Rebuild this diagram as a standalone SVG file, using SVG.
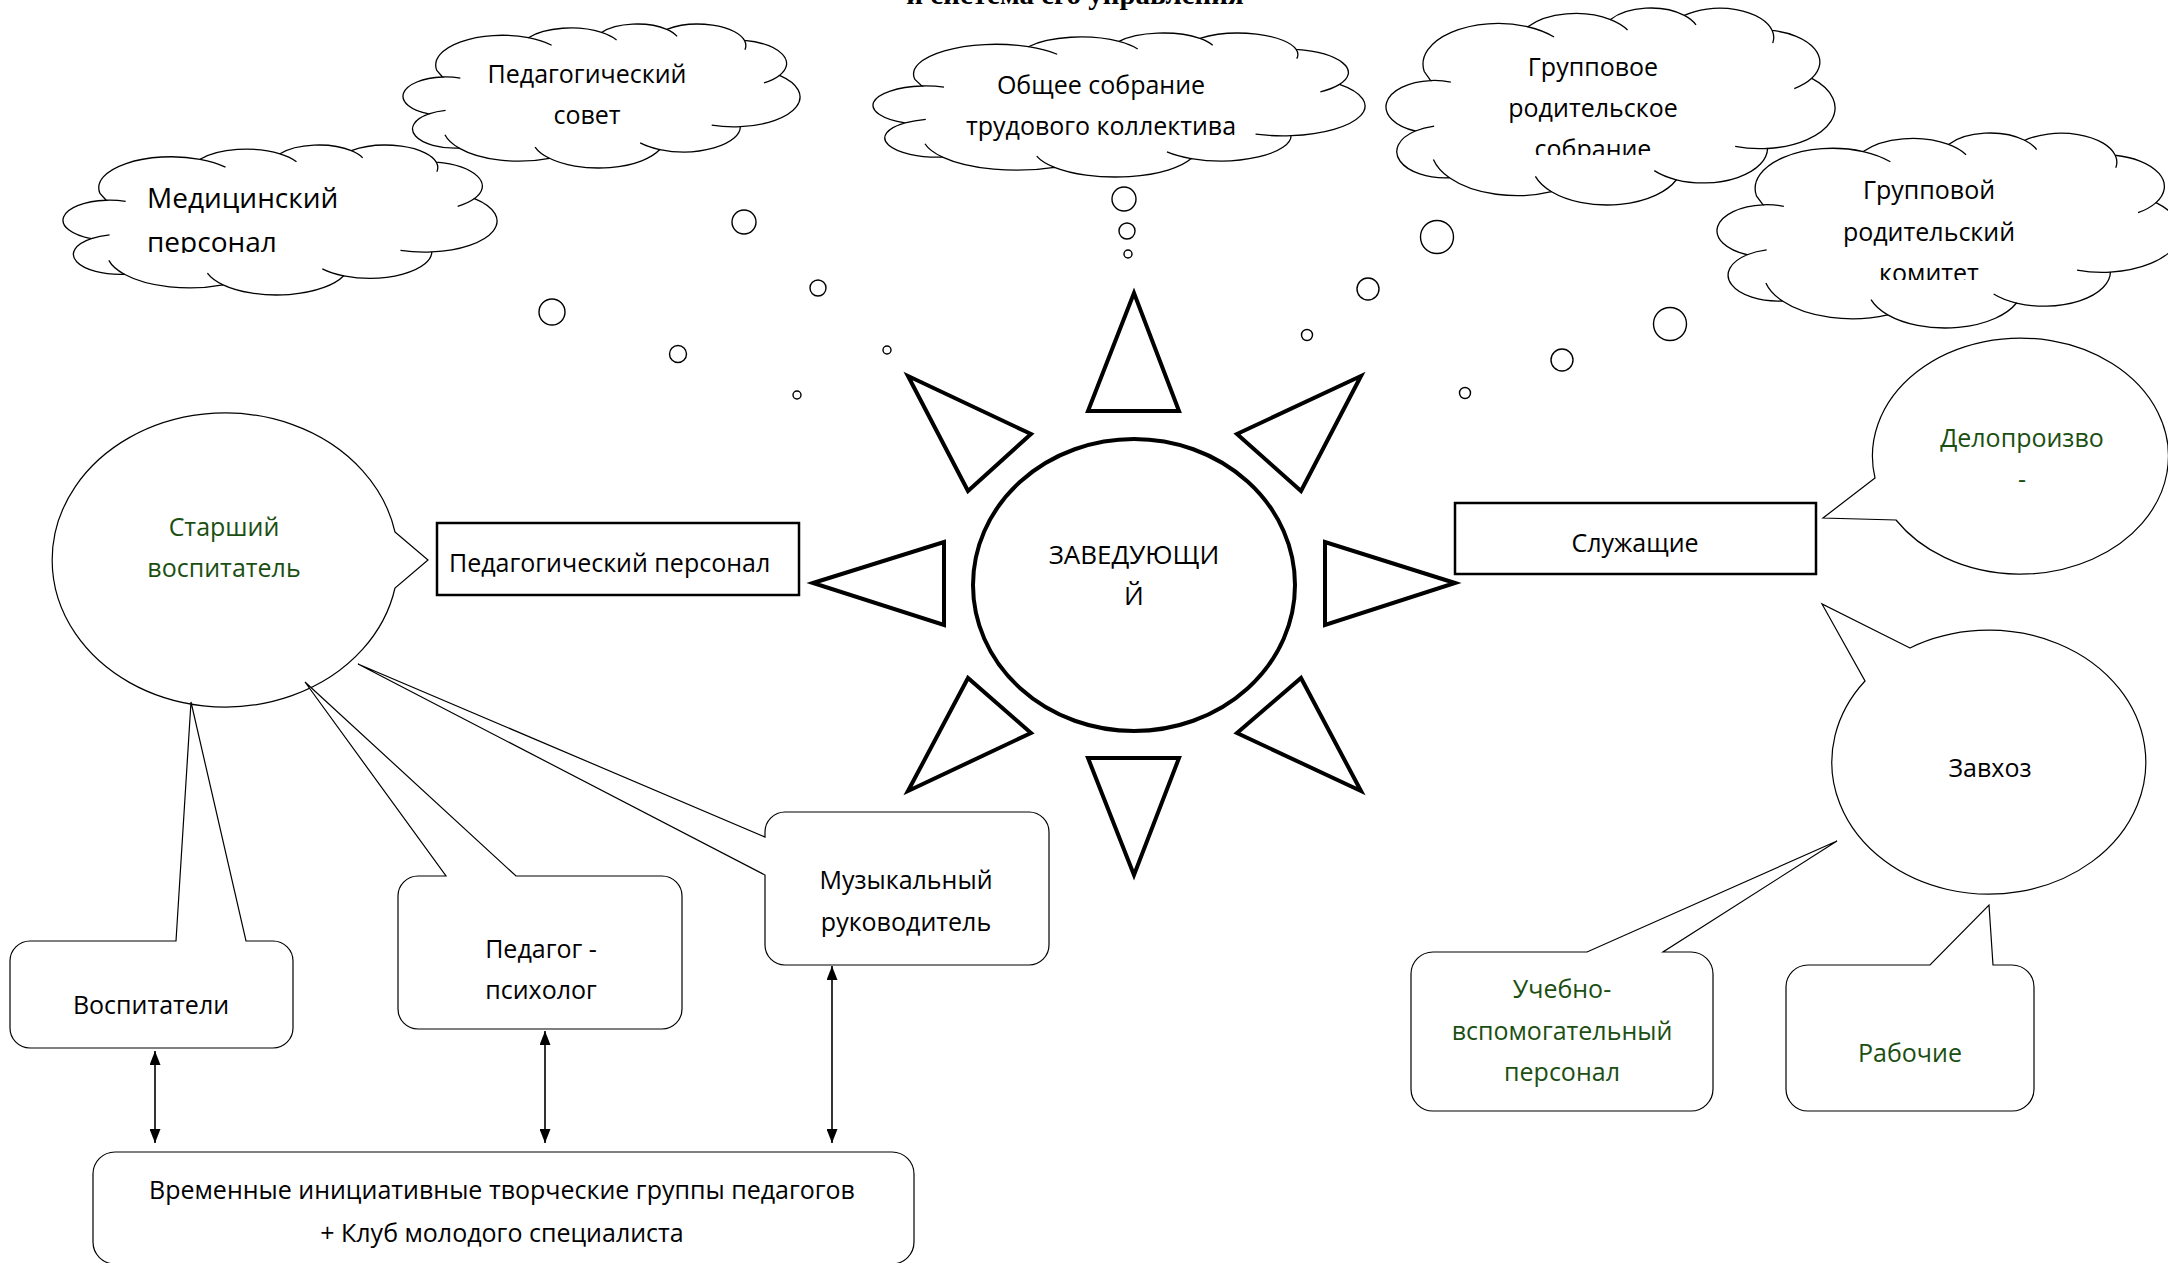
<svg xmlns="http://www.w3.org/2000/svg" width="2168" height="1263" viewBox="0 0 2168 1263">
<style>
.cl{fill:#fff;stroke:#000;stroke-width:1.3}
.wr{fill:none;stroke:#000;stroke-width:1.3}
.bub{fill:#fff;stroke:#000;stroke-width:1.4}
.sun{fill:#fff;stroke:#000;stroke-width:4;stroke-linejoin:miter}
.box{fill:#fff;stroke:#000;stroke-width:2.5}
.co{fill:#fff;stroke:#000;stroke-width:1.2;stroke-linejoin:miter}
.t{font-family:"Open Sans","Noto Sans","DejaVu Sans",sans-serif;font-size:25px;fill:#000}
.g{fill:#1b4f12}
.c{text-anchor:middle}
.arr{stroke:#000;stroke-width:1.6;fill:none}
</style>
<defs>
<path id="cloudShape" vector-effect="non-scaling-stroke" d="M 8.52 32.26 A 16.72 20.67 0 0 1 31.58 9.52 A 13.20 16.34 0 0 1 50.01 5.86 A 10.81 13.37 0 0 1 66.44 3.74 A 12.03 14.83 0 0 1 86.01 11.41 A 13.20 16.35 0 0 1 94.82 35.70 A 16.77 20.73 0 0 1 84.98 71.31 A 14.32 17.69 0 0 1 64.68 87.19 A 16.72 20.72 0 0 1 36.88 93.25 A 19.11 23.71 0 0 1 14.13 86.16 A 10.80 13.31 0 0 1 6.52 62.44 A 10.76 13.37 0 0 1 9.95 36.82 Z"/>
<path id="cloudWr" vector-effect="non-scaling-stroke" d="M 31.58 9.52 A 16.72 20.67 0 0 1 37.44 14.75 M 50.01 5.86 A 13.20 16.34 0 0 1 53.80 11.14 M 66.44 3.74 A 10.81 13.37 0 0 1 69.04 8.56 M 86.01 11.41 A 12.03 14.83 0 0 1 86.13 17.83 M 94.82 35.70 A 13.20 16.35 0 0 1 90.93 40.89 M 84.98 71.31 A 16.77 20.73 0 0 1 77.76 70.29 M 64.68 87.19 A 14.32 17.69 0 0 1 59.75 82.56 M 36.88 93.25 A 16.72 20.72 0 0 1 33.27 85.46 M 14.13 86.16 A 19.11 23.71 0 0 1 10.56 76.90 M 6.52 62.44 A 10.80 13.31 0 0 1 10.73 59.94 M 9.95 36.82 A 10.76 13.37 0 0 1 14.44 37.59"/>
<marker id="ah" markerUnits="userSpaceOnUse" markerWidth="14" markerHeight="11" refX="14" refY="5.5" orient="auto-start-reverse"><path d="M0,0 L14,5.5 L0,11 Z" fill="#000"/></marker>
<clipPath id="clipMed"><rect x="60" y="140" width="440" height="113"/></clipPath>
<clipPath id="clipGrp"><rect x="1380" y="0" width="460" height="155"/></clipPath>
<clipPath id="clipKom"><rect x="1710" y="130" width="460" height="150"/></clipPath>
</defs>
<rect width="2168" height="1263" fill="#fff"/>
<text x="1075" y="4" font-family="'Liberation Serif',serif" font-weight="bold" font-size="29" text-anchor="middle">и система его управления</text>

<g id="cloud-ped-sovet">
<g transform="translate(403,24) scale(3.97,1.44)"><use href="#cloudShape" class="cl"/><use href="#cloudWr" class="wr"/></g>
<text class="t c" x="587" y="83">Педагогический</text>
<text class="t c" x="587" y="124">совет</text>
</g>
<g id="cloud-med">
<g transform="translate(63,145) scale(4.34,1.50)"><use href="#cloudShape" class="cl"/><use href="#cloudWr" class="wr"/></g>
<g clip-path="url(#clipMed)">
<text class="t" style="font-size:28px" x="147" y="208">Медицинский</text>
<text class="t" style="font-size:28px" x="147" y="252">персонал</text>
</g>
</g>
<g id="cloud-obshee">
<g transform="translate(873,33) scale(4.92,1.44)"><use href="#cloudShape" class="cl"/><use href="#cloudWr" class="wr"/></g>
<text class="t c" x="1101" y="94">Общее собрание</text>
<text class="t c" x="1101" y="135">трудового коллектива</text>
</g>
<g id="cloud-grp-sobranie">
<g transform="translate(1386,8) scale(4.49,1.97)"><use href="#cloudShape" class="cl"/><use href="#cloudWr" class="wr"/></g>
<g clip-path="url(#clipGrp)">
<text class="t c" x="1593" y="76">Групповое</text>
<text class="t c" x="1593" y="117">родительское</text>
<text class="t c" x="1593" y="158">собрание</text>
</g>
</g>
<g id="cloud-komitet">
<g transform="translate(1717,133) scale(4.63,1.95)"><use href="#cloudShape" class="cl"/><use href="#cloudWr" class="wr"/></g>
<g clip-path="url(#clipKom)">
<text class="t c" x="1929" y="199">Групповой</text>
<text class="t c" x="1929" y="241">родительский</text>
<text class="t c" x="1929" y="282">комитет</text>
</g>
</g>

<g id="thought-bubbles">
<circle class="bub" cx="552" cy="312" r="13"/>
<circle class="bub" cx="744" cy="222" r="12"/>
<circle class="bub" cx="818" cy="288" r="8"/>
<circle class="bub" cx="678" cy="354" r="8.5"/>
<circle class="bub" cx="887" cy="350" r="4"/>
<circle class="bub" cx="797" cy="395" r="4"/>
<circle class="bub" cx="1124" cy="199" r="12"/>
<circle class="bub" cx="1127" cy="231" r="8"/>
<circle class="bub" cx="1128" cy="254" r="4"/>
<circle class="bub" cx="1437" cy="237" r="16.5"/>
<circle class="bub" cx="1368" cy="289" r="11"/>
<circle class="bub" cx="1307" cy="335" r="5.5"/>
<circle class="bub" cx="1670" cy="324" r="16.5"/>
<circle class="bub" cx="1562" cy="360" r="11"/>
<circle class="bub" cx="1465" cy="393" r="5.5"/>
</g>

<g id="zaveduyushiy">
<polygon class="sun" points="1134,293 1088,411 1179,411"/>
<polygon class="sun" points="908,376 1031,434 968,491"/>
<polygon class="sun" points="1361,376 1237,434 1301,491"/>
<polygon class="sun" points="813,583 944,542 944,625"/>
<polygon class="sun" points="1455,583 1325,542 1325,625"/>
<polygon class="sun" points="908,791 1031,733 968,678"/>
<polygon class="sun" points="1361,791 1237,733 1301,678"/>
<polygon class="sun" points="1134,875 1088,758 1179,758"/>
<ellipse class="sun" cx="1134" cy="585" rx="161" ry="146"/>
<text class="t c" style="font-size:26px" x="1134" y="564">ЗАВЕДУЮЩИ</text>
<text class="t c" style="font-size:26px" x="1134" y="605">Й</text>
</g>

<g id="ped-personal">
<rect class="box" x="437" y="523" width="362" height="72"/>
<text class="t" x="449" y="572">Педагогический персонал</text>
</g>
<g id="sluzhashie">
<rect class="box" x="1455" y="503" width="361" height="71"/>
<text class="t c" x="1635" y="552">Служащие</text>
</g>

<g id="starshiy-vospitatel">
<path class="co" d="M 395,532 L 428,560 L 395,588 A 173 147 0 1 1 395,532 Z"/>
<text class="t c g" x="224" y="536">Старший</text>
<text class="t c g" x="224" y="577">воспитатель</text>
</g>
<g id="vospitateli">
<path class="co" d="M 30,941 H 176 L 191,702 L 246,941 H 273 A 20 20 0 0 1 293,961 V 1028 A 20 20 0 0 1 273,1048 H 30 A 20 20 0 0 1 10,1028 V 961 A 20 20 0 0 1 30,941 Z"/>
<text class="t c" x="151" y="1014">Воспитатели</text>
</g>
<g id="pedagog-psiholog">
<path class="co" d="M 418,876 H 446 L 305,682 L 516,876 H 662 A 20 20 0 0 1 682,896 V 1009 A 20 20 0 0 1 662,1029 H 418 A 20 20 0 0 1 398,1009 V 896 A 20 20 0 0 1 418,876 Z"/>
<text class="t c" x="541" y="958">Педагог -</text>
<text class="t c" x="541" y="999">психолог</text>
</g>
<g id="muz-rukovoditel">
<path class="co" d="M 785,812 H 1029 A 20 20 0 0 1 1049,832 V 945 A 20 20 0 0 1 1029,965 H 785 A 20 20 0 0 1 765,945 V 875 L 358,664 L 765,837 V 832 A 20 20 0 0 1 785,812 Z"/>
<text class="t c" x="906" y="889">Музыкальный</text>
<text class="t c" x="906" y="931">руководитель</text>
</g>
<g id="vremennye-gruppy">
<rect class="co" x="93" y="1152" width="821" height="112" rx="22" ry="22"/>
<text class="t c" x="502" y="1199">Временные инициативные творческие группы педагогов</text>
<text class="t c" x="502" y="1242">+ Клуб молодого специалиста</text>
</g>

<g id="deloproizvoditel">
<path class="co" d="M 1875,478 L 1823,518 L 1896,520 A 148 118 0 1 0 1875,478 Z"/>
<text class="t c g" x="2022" y="447">Делопроизво</text>
<text class="t c g" x="2022" y="488">-</text>
</g>
<g id="zavhoz">
<path class="co" d="M 1910,648 L 1822,604 L 1865,681 A 157 132 0 1 0 1910,648 Z"/>
<text class="t c" x="1990" y="777">Завхоз</text>
</g>
<g id="uchebno-vspomogatelny">
<path class="co" d="M 1433,952 H 1587 L 1837,841 L 1663,952 H 1691 A 22 22 0 0 1 1713,974 V 1089 A 22 22 0 0 1 1691,1111 H 1433 A 22 22 0 0 1 1411,1089 V 974 A 22 22 0 0 1 1433,952 Z"/>
<text class="t c g" x="1562" y="998">Учебно-</text>
<text class="t c g" x="1562" y="1040">вспомогательный</text>
<text class="t c g" x="1562" y="1081">персонал</text>
</g>
<g id="rabochie">
<path class="co" d="M 1808,965 H 1930 L 1989,905 L 1993,965 H 2012 A 22 22 0 0 1 2034,987 V 1089 A 22 22 0 0 1 2012,1111 H 1808 A 22 22 0 0 1 1786,1089 V 987 A 22 22 0 0 1 1808,965 Z"/>
<text class="t c g" x="1910" y="1062">Рабочие</text>
</g>

<g id="connectors">
<line class="arr" x1="155" y1="1051" x2="155" y2="1143" marker-start="url(#ah)" marker-end="url(#ah)"/>
<line class="arr" x1="545" y1="1031" x2="545" y2="1143" marker-start="url(#ah)" marker-end="url(#ah)"/>
<line class="arr" x1="832" y1="966" x2="832" y2="1143" marker-start="url(#ah)" marker-end="url(#ah)"/>
</g>
</svg>
